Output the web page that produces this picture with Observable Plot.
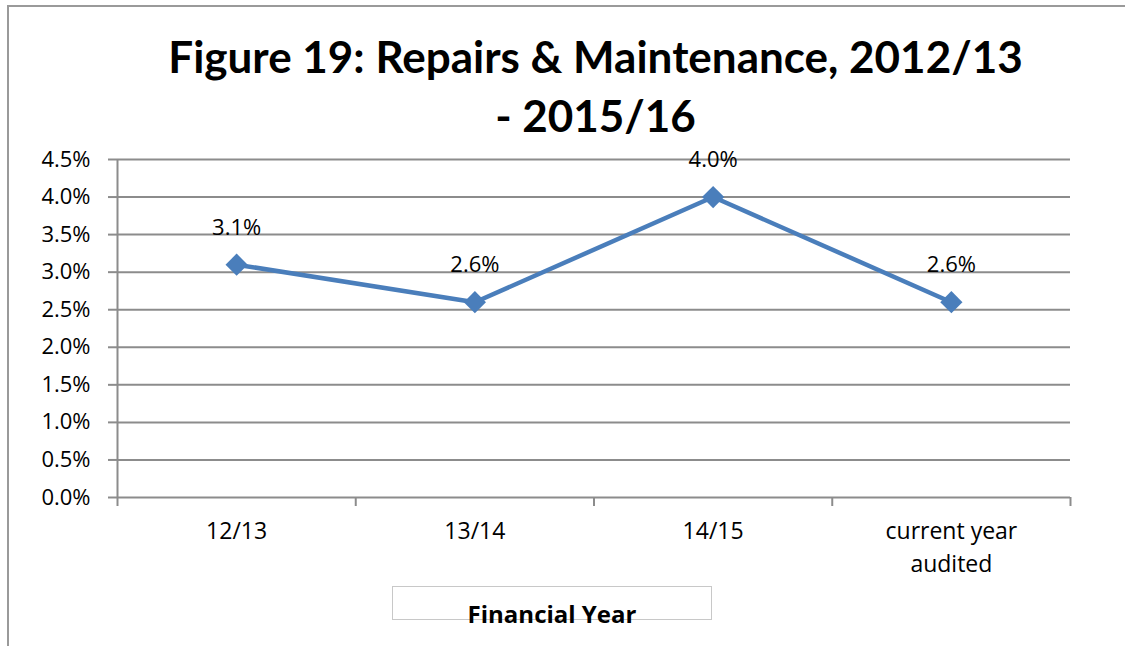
<!DOCTYPE html>
<html>
<head>
<meta charset="utf-8">
<script src="https://cdn.jsdelivr.net/npm/d3@7"></script>
<script src="https://cdn.jsdelivr.net/npm/@observablehq/plot@0.6"></script>
<style>
  html, body { margin: 0; padding: 0; background: #fff; }
  #wrap { position: relative; width: 1125px; height: 646px; overflow: hidden; }
  #border { position: absolute; left: 7px; top: 5px; width: 1130px; height: 700px;
            border-left: 2px solid #9a9a9a; border-top: 2px solid #9a9a9a; }
  #title { position: absolute; left: 0; width: 1125px; top: 27px; text-align: center;
           font-family: Lato, "Open Sans", sans-serif; font-weight: bold; font-size: 44px;
           line-height: 59px; color: #000; padding-left: 66px; box-sizing: border-box; }
  #legend { position: absolute; left: 392px; top: 586px; width: 320px; height: 34px;
            border: 1.5px solid #c8c8c8; box-sizing: border-box; }
  #legendText { position: absolute; left: 392px; width: 320px; top: 597px; text-align: center;
                font-family: "Open Sans", sans-serif; font-weight: bold; font-size: 24px; color: #000; }
  #chart { position: absolute; left: 0; top: 0; }
</style>
</head>
<body>
<div id="wrap">
  <div id="border"></div>
  <div id="chart"></div>
  <div id="title">Figure 19: Repairs &amp; Maintenance, 2012/13<br>- 2015/16</div>
  <div id="legend"></div>
  <div id="legendText">Financial Year</div>
</div>
<script>
const categories = ["12/13", "13/14", "14/15", "current year\naudited"];
const values = [0.031, 0.026, 0.040, 0.026];
const valueLabels = ["3.1%", "2.6%", "4.0%", "2.6%"];
const yTicks = [0, 0.005, 0.01, 0.015, 0.02, 0.025, 0.03, 0.035, 0.04, 0.045];

const data = categories.map((c, i) => ({ pos: i + 0.5, category: c, value: values[i], label: valueLabels[i] }));
const xBoundaries = d3.range(categories.length + 1);

const blue = "#4a7ebb";
const grid = "#8c8c8c";
const font = "'Open Sans', sans-serif";

const chart = Plot.plot({
  width: 1125,
  height: 646,
  marginLeft: 117,
  marginRight: 55,
  marginTop: 159,
  marginBottom: 149,
  style: { fontFamily: font, fontSize: "22px", color: "#000", background: "transparent" },
  x: { type: "linear", domain: [0, categories.length], axis: null, label: null },
  y: { type: "linear", domain: [0, 0.045], axis: null, label: null },
  marks: [
    Plot.ruleY(yTicks, { stroke: grid, strokeWidth: 2 }),
    Plot.ruleX([0], { stroke: grid, strokeWidth: 2 }),
    Plot.axisY({ ticks: yTicks, tickFormat: d3.format(".1%"), tickSize: 9, tickPadding: 18, label: null,
                 stroke: grid, strokeWidth: 2, fontSize: 22, fontFamily: font, fill: "#000" }),
    Plot.axisX({ ticks: xBoundaries, tickFormat: () => "", tickSize: 9, label: null, stroke: grid, strokeWidth: 2 }),
    Plot.text(data, { x: "pos", y: 0, text: "category", lineAnchor: "top", dy: 18,
                      fontSize: 23, fontFamily: font, fill: "#000", lineHeight: 1.43 }),
    Plot.lineY(data, { x: "pos", y: "value", stroke: blue, strokeWidth: 4.5 }),
    Plot.dot(data, { x: "pos", y: "value", symbol: "diamond2", r: 10, fill: blue, stroke: "none" }),
    Plot.text(data, { x: "pos", y: "value", text: "label", dy: -37, fontSize: 22, fontFamily: font, fill: "#000" })
  ]
});
document.getElementById("chart").appendChild(chart);
</script>
</body>
</html>
